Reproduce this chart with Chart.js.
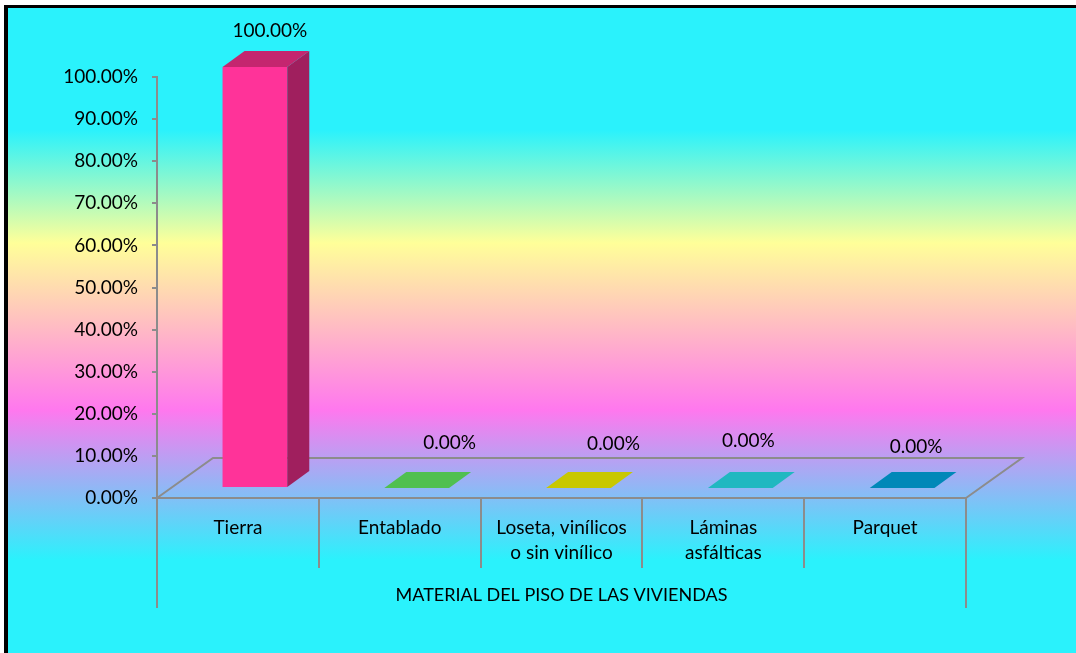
<!DOCTYPE html>
<html><head><meta charset="utf-8">
<script src="https://cdn.jsdelivr.net/npm/chart.js@4"></script>
<style>html,body{margin:0;padding:0;background:#fff;overflow:hidden}#wrap{width:1076px;height:653px;position:relative}canvas{display:block}</style>
</head><body><div id="wrap"><canvas id="c" width="1076" height="653"></canvas></div>
<script>
// ---- data ----
const categories = ['Tierra', 'Entablado', ['Loseta, vinílicos', 'o sin vinílico'], ['Láminas', 'asfálticas'], 'Parquet'];
const values = [100, 0, 0, 0, 0];
const yMin = 0, yMax = 100, yStep = 10;
const axisTitle = 'MATERIAL DEL PISO DE LAS VIVIENDAS';

// ---- styles ----
const frontColors = ['#FF3399', '#50C050', '#C8C800', '#20B8C0', '#0088B8'];
const sideColors  = ['#A01F5E', '#3C9A3C', '#A0A000', '#189098', '#006A90'];
const topColors   = ['#C4266F', '#50C050', '#C8C800', '#20B8C0', '#0088B8'];
const labelNudge  = [[15, -36], [33, -45], [35, -44], [8, -47], [14, -41]];
const FONT = 'Lato, "Open Sans", sans-serif';
const FS = 19;
const GREY = '#8C8C8C';
const BAR_SHIFT = [17, -10];   // bar front face offset inside the 3D floor
const BAR_DEPTH = [22, -16];
const FLOOR_DEPTH = [56, -40];

const bgPlugin = {
  id: 'bg',
  beforeDraw(chart) {
    const ctx = chart.ctx;
    ctx.save();
    ctx.fillStyle = '#fff';
    ctx.fillRect(0, 0, chart.width, chart.height);
    const g = ctx.createLinearGradient(0, 0, 0, 653);
    g.addColorStop(0, '#2AF2FC');
    g.addColorStop(130 / 653, '#2AF2FC');
    g.addColorStop(243 / 653, '#FFFF99');
    g.addColorStop(410 / 653, '#FF78EE');
    g.addColorStop(560 / 653, '#2AF2FC');
    g.addColorStop(1, '#2AF2FC');
    ctx.fillStyle = g;
    ctx.fillRect(8, 8, chart.width - 8, chart.height - 8);
    ctx.fillStyle = '#000';
    ctx.fillRect(4, 5, 4, chart.height - 5);
    ctx.fillRect(4, 5, chart.width - 4, 3);
    ctx.restore();
  }
};

const floorPlugin = {
  id: 'floor',
  beforeDatasetsDraw(chart) {
    const {ctx, chartArea: a} = chart;
    ctx.save();
    ctx.strokeStyle = GREY;
    ctx.lineWidth = 2;
    ctx.beginPath();
    ctx.moveTo(a.left, a.bottom);
    ctx.lineTo(a.left + FLOOR_DEPTH[0], a.bottom + FLOOR_DEPTH[1]);
    ctx.lineTo(a.right + FLOOR_DEPTH[0], a.bottom + FLOOR_DEPTH[1]);
    ctx.lineTo(a.right, a.bottom);
    ctx.stroke();
    const n = categories.length;
    const w = (a.right - a.left) / n;
    for (let i = 0; i <= n; i++) {
      const px = Math.round(a.left + i * w);
      const len = (i === 0 || i === n) ? 110 : 70;
      ctx.beginPath();
      ctx.moveTo(px, a.bottom);
      ctx.lineTo(px, a.bottom + len);
      ctx.stroke();
    }
    ctx.restore();
    ctx.save();
    ctx.translate(BAR_SHIFT[0], BAR_SHIFT[1]);
  },
  afterDatasetsDraw(chart) {
    const ctx = chart.ctx;
    ctx.restore();
    const meta = chart.getDatasetMeta(0);
    ctx.save();
    meta.data.forEach((el, i) => {
      const p = el.getProps(['x', 'y', 'base', 'width'], true);
      const x1 = p.x - p.width / 2 + BAR_SHIFT[0];
      const x2 = p.x + p.width / 2 + BAR_SHIFT[0];
      const yt = p.y + BAR_SHIFT[1];
      const yb = p.base + BAR_SHIFT[1];
      const [dx, dy] = BAR_DEPTH;
      if (yb - yt > 0.5) {
        ctx.fillStyle = sideColors[i];
        ctx.beginPath();
        ctx.moveTo(x2, yt); ctx.lineTo(x2 + dx, yt + dy);
        ctx.lineTo(x2 + dx, yb + dy); ctx.lineTo(x2, yb);
        ctx.closePath(); ctx.fill();
      }
      ctx.fillStyle = topColors[i];
      ctx.beginPath();
      ctx.moveTo(x1, yt); ctx.lineTo(x2, yt);
      ctx.lineTo(x2 + dx, yt + dy); ctx.lineTo(x1 + dx, yt + dy);
      ctx.closePath(); ctx.fill();
      const cx = (x1 + x2) / 2 + labelNudge[i][0];
      const cy = yt + labelNudge[i][1];
      ctx.fillStyle = '#000';
      ctx.font = FS + 'px ' + FONT;
      ctx.textAlign = 'center';
      ctx.textBaseline = 'middle';
      ctx.fillText(values[i].toFixed(2) + '%', cx, cy);
    });
    ctx.restore();
  }
};

new Chart(document.getElementById('c'), {
  type: 'bar',
  data: {
    labels: categories,
    datasets: [{
      data: values,
      backgroundColor: frontColors,
      borderWidth: 0,
      categoryPercentage: 1,
      barPercentage: 0.4,
      clip: false
    }]
  },
  options: {
    responsive: false,
    animation: false,
    devicePixelRatio: 1,
    layout: { padding: { top: 77, right: 110, left: 0, bottom: 0 } },
    plugins: { legend: { display: false }, tooltip: { enabled: false } },
    scales: {
      x: {
        grid: { display: false, drawTicks: false },
        border: { display: true, color: GREY, width: 2 },
        ticks: { color: '#000', font: { family: FONT, size: FS, lineHeight: 1.32 }, padding: 17, maxRotation: 0, autoSkip: false },
        title: { display: true, text: axisTitle, color: '#000', font: { family: FONT, size: 18, lineHeight: 1.2 }, padding: { top: 0, bottom: 47 } },
        afterFit(s) { s.height = 155; }
      },
      y: {
        min: yMin, max: yMax,
        ticks: { stepSize: yStep, color: '#000', font: { family: FONT, size: FS }, padding: 14,
          callback: v => v.toFixed(2) + '%' },
        grid: { drawOnChartArea: false, drawTicks: true, tickLength: 5, color: GREY, lineWidth: 2 },
        border: { display: true, color: GREY, width: 2 },
        afterFit(s) { s.width = 157; }
      }
    }
  },
  plugins: [bgPlugin, floorPlugin]
});
</script></body></html>
